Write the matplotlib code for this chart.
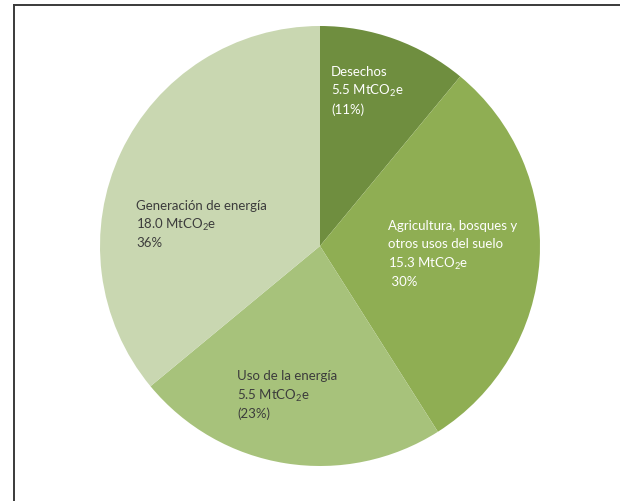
import matplotlib
matplotlib.use("Agg")
import matplotlib.pyplot as plt
from matplotlib.lines import Line2D

plt.rcParams['font.family'] = ['Lato', 'DejaVu Sans']
plt.rcParams['mathtext.fontset'] = 'custom'
plt.rcParams['mathtext.rm'] = 'Lato'
plt.rcParams['mathtext.it'] = 'Lato:italic'

# Data (clockwise from 12 o'clock)
categories = ["Desechos", "Agricultura, bosques y\notros usos del suelo", "Uso de la energía", "Generación de energía"]
values_mt = ["5.5", "15.3", "5.5", "18.0"]
shares = [11, 30, 23, 36]
pct_labels = ["(11%)", " 30%", "(23%)", "36%"]
colors = ["#6f8e3f", "#8fae53", "#a7c27b", "#c9d7b1"]
text_colors = ["white", "white", "#3c3c3c", "#3c3c3c"]

W, H = 620, 502
fig = plt.figure(figsize=(W / 100, H / 100), dpi=100)
ax = fig.add_axes([0, 0, 1, 1])

cx, cy, r = 320, H - 247, 220
ax.pie(shares, colors=colors, startangle=90, counterclock=False,
       center=(cx, cy), radius=r, wedgeprops=dict(linewidth=0))
ax.set_xlim(0, W)
ax.set_ylim(0, H)
ax.set_aspect('equal')
ax.axis('off')

# label positions (pixel: x left, y of first line centre)
label_pos = [(331, 71), (388, 225), (237, 376), (136, 205)]
line_gap = 19
fs = 9.5
for i in range(len(categories)):
    lines = categories[i].split("\n") + [values_mt[i] + r" MtCO$_\mathrm{2}$e", pct_labels[i]]
    x0, y0 = label_pos[i]
    for j, ln in enumerate(lines):
        yb = y0 + j * line_gap + 4.5
        ax.text(x0, H - yb, ln, ha='left', va='baseline', fontsize=fs,
                color=text_colors[i])

# frame lines (left and top)
fig.add_artist(Line2D([14 / W, 14 / W], [0, 1 - 6 / H], transform=fig.transFigure,
                      color="#3a3a3a", lw=1.4))
fig.add_artist(Line2D([14 / W, 1], [1 - 6 / H, 1 - 6 / H], transform=fig.transFigure,
                      color="#3a3a3a", lw=1.4))

fig.savefig("out.png", dpi=100, facecolor="white")
